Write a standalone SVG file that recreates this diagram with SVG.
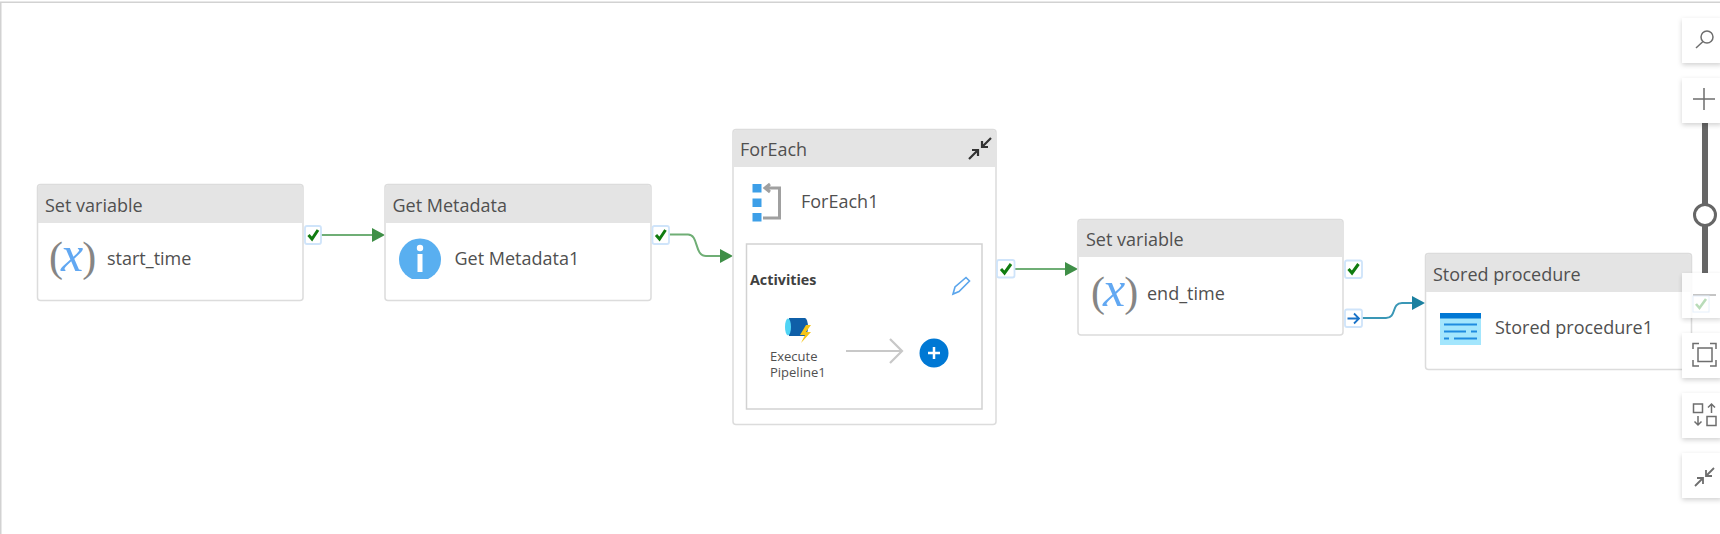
<svg xmlns="http://www.w3.org/2000/svg" width="1720" height="534" viewBox="0 0 1720 534">
<style>
text{font-family:"Open Sans","Noto Sans","Liberation Sans",sans-serif;fill:#505050}
.h{font-size:18px}
.n{font-size:18px}
.card{fill:#fff;stroke:#dcdcdc;stroke-width:1.5}
.head{fill:#e4e4e4}
.port{fill:#fff;stroke:#cfe4fa;stroke-width:1.8}
.ck{fill:none;stroke:#107c10;stroke-width:3}
.g{fill:none;stroke:#6fae75;stroke-width:2}
.t{fill:none;stroke:#3a97b6;stroke-width:2}
.ga{fill:#3f8f47}
.ta{fill:#1b80a0}
.btn{fill:#fff;filter:url(#sh)}
.ic{fill:none;stroke:#6e6e6e;stroke-width:1.5}
.paren{font-family:"Liberation Serif",serif;font-size:42px;fill:#858585}
.x{font-family:"Liberation Serif",serif;font-size:50px;font-style:italic;fill:#62a8f2}
</style>
<defs>
<filter id="sh" x="-30%" y="-30%" width="160%" height="170%"><feDropShadow dx="0" dy="2" stdDeviation="2.5" flood-color="#000" flood-opacity=".18"/></filter>
<clipPath id="infoClip"><rect x="395" y="235" width="50" height="44"/></clipPath>
</defs>
<rect width="1720" height="534" fill="#fff"/>
<rect x="0" y="1.5" width="1720" height="1.5" fill="#d2d2d2"/>
<rect x="0" y="2" width="1.5" height="532" fill="#d2d2d2"/>

<g id="connectors">
<path class="g" d="M321 235H373"/><path class="ga" d="M372 228L385 235L372 242Z"/>
<path class="g" d="M669 234.500H688C699 234.500 694 256 706 256H722"/><path class="ga" d="M720 249L733 256L720 263Z"/>
<path class="g" d="M1015 269H1066"/><path class="ga" d="M1065 262L1078 269L1065 276Z"/>
<path class="t" d="M1362 318H1386C1397 318 1391 303 1402 303H1414"/><path class="ta" d="M1412 296L1425 303L1412 310Z"/>
</g>

<g id="node-start-time">
<rect class="card" x="37.500" y="184.500" width="265.500" height="116" rx="3"/>
<path class="head" d="M38 223V188a3 3 0 0 1 3-3H299.500a3 3 0 0 1 3 3V223Z"/>
<text class="h" x="45" y="212">Set variable</text>
<text x="49" y="271"><tspan class="paren">(</tspan><tspan class="x" dx="-2">x</tspan><tspan class="paren" dx="-1">)</tspan></text>
<text class="n" x="107" y="265">start_time</text>
<rect class="port" x="305" y="226" width="16" height="18" rx="2"/><path class="ck" d="M308.500 235L312 239L318 230"/>
</g>

<g id="node-get-metadata">
<rect class="card" x="385" y="184.500" width="266" height="116" rx="3"/>
<path class="head" d="M385.500 223V188a3 3 0 0 1 3-3H647.500a3 3 0 0 1 3 3V223Z"/>
<text class="h" x="392.500" y="212">Get Metadata</text>
<circle cx="420" cy="259.500" r="21" fill="#59aff0" clip-path="url(#infoClip)"/>
<circle cx="420" cy="248" r="3.200" fill="#fff"/><rect x="417.500" y="254" width="5" height="18" fill="#fff"/>
<text class="n" x="454.500" y="265">Get Metadata1</text>
<rect class="port" x="652.500" y="226" width="16.500" height="18" rx="2"/><path class="ck" d="M656 235L659.500 239L665.500 230"/>
</g>

<g id="node-foreach">
<rect class="card" x="733" y="129.500" width="263" height="295" rx="3"/>
<path class="head" d="M733.500 167V133a3 3 0 0 1 3-3H992.500a3 3 0 0 1 3 3V167Z"/>
<text class="h" x="740" y="156">ForEach</text>
<path fill="none" stroke="#333" stroke-width="2.200" d="M991 138L982 147M982 141V147H988M969 159L978 150M972 150H978V156"/>
<rect x="752.500" y="184" width="9" height="8.500" fill="#3d9fe8"/><rect x="752.500" y="198.500" width="9" height="8.500" fill="#3d9fe8"/><rect x="752.500" y="213" width="9" height="8.500" fill="#3d9fe8"/>
<path fill="none" stroke="#a0a0a0" stroke-width="3" d="M765 188H779.500V218H763M770 184L765 188L770 192"/>
<text class="n" x="801" y="208">ForEach1</text>
<rect x="746.500" y="244" width="235.500" height="165" fill="#fff" stroke="#d2d2d2" stroke-width="1.500"/>
<text x="750" y="285" font-size="14.300px" font-weight="700" style="fill:#404040">Activities</text>
<path fill="none" stroke="#5aa5ec" stroke-width="1.600" d="M953 294L955 287L966 277.500L969.500 281L959 291.500Z"/>
<path fill="#0f5fa8" d="M789 318H805a3 9 0 0 1 0 18H789Z"/><ellipse cx="788" cy="327" rx="3" ry="8.500" fill="#50d4f5"/>
<path fill="#f5c518" d="M806 325L800 335H805L801 343L811 332H806L811 325Z"/>
<text x="770" y="361" font-size="13px">Execute</text>
<text x="770" y="377" font-size="13px">Pipeline1</text>
<path fill="none" stroke="#c8c8c8" stroke-width="2.200" d="M846 351H901M890 339L902 351L890 363"/>
<circle cx="934" cy="353" r="14.500" fill="#0078d4"/><path stroke="#fff" stroke-width="2.500" d="M928 353H940M934 347V359"/>
<rect class="port" x="997" y="260" width="17.500" height="17.500" rx="2"/><path class="ck" d="M1001 269L1004.500 273L1011 264"/>
</g>

<g id="node-end-time">
<rect class="card" x="1078" y="219.500" width="265" height="115.500" rx="3"/>
<path class="head" d="M1078.500 257V223a3 3 0 0 1 3-3H1339.500a3 3 0 0 1 3 3V257Z"/>
<text class="h" x="1086" y="246">Set variable</text>
<text x="1091" y="306"><tspan class="paren">(</tspan><tspan class="x" dx="-2">x</tspan><tspan class="paren" dx="-1">)</tspan></text>
<text class="n" x="1147" y="300">end_time</text>
<rect class="port" x="1345" y="260.500" width="17" height="17.500" rx="2"/><path class="ck" d="M1348.500 269L1352 273L1358.500 264"/>
<rect class="port" x="1345" y="309.500" width="17" height="17.500" rx="2"/><path fill="none" stroke="#1a73c8" stroke-width="1.800" d="M1347.500 318.500H1359M1354 313.500L1359 318.500L1354 323.500"/>
</g>

<g id="node-stored-procedure">
<rect class="card" x="1425.500" y="253.500" width="266" height="116" rx="3"/>
<path class="head" d="M1426 292V257a3 3 0 0 1 3-3H1688a3 3 0 0 1 3 3V292Z"/>
<text class="h" x="1433" y="281">Stored procedure</text>
<rect x="1440" y="313" width="41" height="32" fill="#a3e6fd"/><rect x="1440" y="313" width="41" height="5.500" fill="#0078d4"/>
<path stroke="#1f8ce0" stroke-width="1.800" d="M1444 324.500H1477M1444 331.500H1466M1471 331.500H1477M1444 338.500H1449M1454 338.500H1477"/>
<text class="n" x="1495" y="334">Stored procedure1</text>
</g>

<g id="toolbar">
<rect x="1702" y="120" width="6" height="153" fill="#666"/>
<circle cx="1705" cy="215" r="10.500" fill="#fff" stroke="#666" stroke-width="3"/>
<rect class="btn" x="1682" y="18" width="40" height="45"/>
<circle class="ic" cx="1707" cy="37" r="6"/><path class="ic" d="M1703 41.500L1696 48"/>
<rect class="btn" x="1682" y="78" width="40" height="45"/>
<path class="ic" d="M1693 99H1715M1704 88V110"/>
<rect class="btn" x="1682" y="273" width="40" height="45" style="opacity:.88"/>
<path d="M1693 295H1716" stroke="#8a8a8a" stroke-width="1"/>
<rect x="1693" y="296" width="16" height="16" fill="none" stroke="#e6f0fb" stroke-width="1"/>
<path fill="none" stroke="#b9dcb9" stroke-width="2.600" d="M1696 304L1699.500 308L1706 299"/>
<rect class="btn" x="1682" y="333" width="40" height="45"/>
<rect class="ic" x="1698" y="348" width="14" height="13.500"/>
<path class="ic" d="M1693 349V343.500H1699M1710 343.500H1716V349M1716 360V366H1710M1699 366H1693V360"/>
<rect class="btn" x="1682" y="393" width="40" height="45"/>
<rect class="ic" x="1693.500" y="404" width="9" height="8.500"/><rect class="ic" x="1707" y="416.500" width="9" height="9"/>
<path class="ic" d="M1711.500 413V404.500M1708 407.500L1711.500 404L1715 407.500M1698 416V425M1694.500 421.500L1698 425L1701.500 421.500"/>
<rect class="btn" x="1682" y="453" width="40" height="45"/>
<path class="ic" style="stroke-width:1.800" d="M1714 468L1706 476M1706 470V476H1712M1695 486L1703 478M1697 478H1703V484"/>
</g>
</svg>
